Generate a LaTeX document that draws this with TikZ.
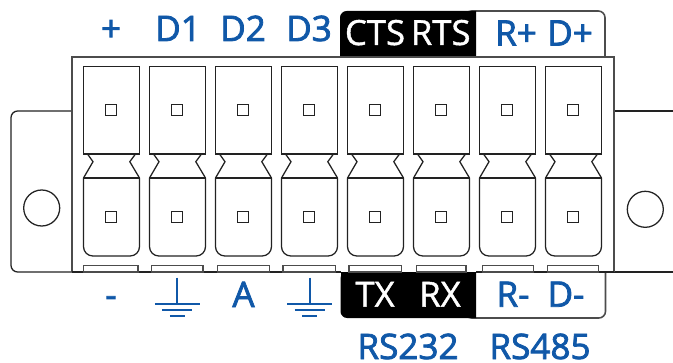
\documentclass[tikz,border=0pt]{standalone}
\usepackage{fontspec}
\setmainfont{Open Sans}
\newfontfamily\labfont{Open Sans}[FakeBold=2.2]
\newfontfamily\whitefont{Open Sans}[FakeBold=1.2]
\definecolor{pinblue}{HTML}{1058A8}
\definecolor{outl}{HTML}{222222}
\tikzset{
  part/.style={draw=outl,line width=0.95pt,line join=miter},
  framegrey/.style={draw=black!70,line width=1.2pt},
  lab/.style={text=pinblue,font=\labfont\fontsize{26.3}{26.3}\selectfont,anchor=base,inner sep=0pt,text depth=0pt},
  wlab/.style={text=white,font=\whitefont\fontsize{26}{26}\selectfont,anchor=base,inner sep=0pt,text depth=0pt},
  gnd/.style={draw=pinblue,line width=1.7pt}
}
\begin{document}
\begin{tikzpicture}[x=0.75pt,y=-0.75pt]
\useasboundingbox (0,0) rectangle (673,363);
% label boxes
\draw[framegrey,fill=white,rounded corners=5pt] (465,57) -- (465,11) -- (605,11) -- (605,57);
\fill[black,rounded corners=5pt] (340,57) -- (340,11) -- (470,11) {[sharp corners] -- (476,11) -- (476,57)} -- cycle;
\draw[framegrey,fill=white,rounded corners=5pt] (465,272) -- (465,318) -- (605.5,318) -- (605.5,272);
\fill[black,rounded corners=5pt] (340.5,272) -- (340.5,318) -- (470,318) {[sharp corners] -- (476,318) -- (476,272)} -- cycle;
\fill[black] (340,45) rectangle (350,57);
\fill[black] (340.5,272) rectangle (350,300);
% wings
\draw[part,rounded corners=5pt] (72,111) -- (11,111) -- (11,272) -- (72,272);
\draw[part] (614,111) -- (673,111);
\draw[part] (614,272) -- (673,272);
\node[part,circle,minimum size=27pt,inner sep=0pt] (holeL) at (41.7,208) {};
\node[part,circle,minimum size=27pt,inner sep=0pt] (holeR) at (645.3,209.3) {};
% body
\draw[framegrey] (72,272) -- (72,57) -- (614,57) -- (614,272);
\draw[draw=outl,line width=1.2pt] (72,272) -- (340.5,272);
\draw[draw=outl,line width=1.2pt] (476,272) -- (614,272);
% terminals
\foreach \i in {0,...,7}{
  \pgfmathsetmacro{\xa}{83.5+66*\i}
  \pgfmathsetmacro{\xb}{\xa+56}
  \pgfmathsetmacro{\xc}{\xa+27.6}
  \draw[part] (\xa,66.5) rectangle (\xb,154);
  \draw[part] (\xa+4,154) -- (\xa+9.5,161.7) -- (\xa,178);
  \draw[part] (\xb-4,154) -- (\xb-9.7,161.7) -- (\xb,178);
  \draw[part,rounded corners=7pt] (\xa,178) -- (\xa,256) -- (\xb,256) -- (\xb,178);
  \draw[part] (\xa,178) -- (\xb,178);
  \draw[part] (\xc-5.5,104.5) rectangle (\xc+5.5,115.5);
  \draw[part] (\xc-5.5,211.5) rectangle (\xc+5.5,222.5);
}
% bottom tabs
\foreach \a/\b in {83.5/138,151.3/203,217.7/269.3,283/335.5,349/401.3,416.3/466,482.3/533.3,547.7/598.3}{
  \draw[draw=black!70,line width=1pt,fill=white] (\a,272) -- (\a,265.7) -- (\b,265.7) -- (\b,272) -- cycle;
}
% top labels
\node[lab] (plus) at (111,41) {+};
\node[lab] (d1) at (178,41) {D1};
\node[lab] (d2) at (243,41) {D2};
\node[lab] (d3) at (309,41) {D3};
\node[wlab] (cts) at (375,45) {CTS};
\node[wlab] (rts) at (440.7,45) {RTS};
\node[lab] (rp) at (516,45.5) {R+};
\node[lab] (dp) at (570,45.5) {D+};
% bottom labels
\node[lab] (minus) at (111,307) {-};
\node[lab] (a) at (243.5,307) {A};
\node[wlab] (tx) at (375,306.7) {TX};
\node[wlab] (rx) at (440,306.7) {RX};
\node[lab] (rm) at (513,306.7) {R-};
\node[lab] (dm) at (566,306.7) {D-};
\node[lab] (rs232) at (408,359) {RS232};
\node[lab] (rs485) at (540,359) {RS485};
% ground symbols
\foreach \x in {177.3,309.7}{
  \draw[gnd] (\x,277.7) -- (\x,304);
  \draw[gnd] (\x-22.5,304) -- (\x+22.5,304);
  \draw[gnd] (\x-15,310) -- (\x+15,310);
  \draw[gnd] (\x-7.5,316) -- (\x+7.5,316);
}
\end{tikzpicture}
\end{document}
